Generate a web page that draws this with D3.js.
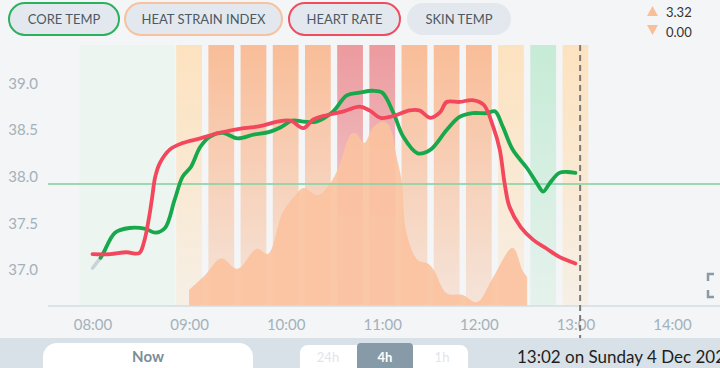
<!DOCTYPE html>
<html><head><meta charset="utf-8">
<script src="https://cdn.jsdelivr.net/npm/d3@7"></script>
<style>
html,body{margin:0;padding:0;background:#f3f5f6;overflow:hidden;}
svg{display:block;font-family:Lato,"Open Sans",sans-serif;}
</style></head>
<body><svg id="c" width="720" height="368"></svg>
<script>
// ---------- DATA ----------
const legendItems = ["CORE TEMP","HEAT STRAIN INDEX","HEART RATE","SKIN TEMP"];
const xTickLabels = ["08:00","09:00","10:00","11:00","12:00","13:00","14:00"];
const yTickValues = [37.0,37.5,38.0,38.5,39.0];
const thresholdValue = 37.92;
const nowTime = "13:02";
const dateLabel = "13:02 on Sunday 4 Dec 2022";
const rangeOptions = ["24h","4h","1h"];
const selectedRange = "4h";

// core temp: first part without signal (grey)
const coreTempGapTimes  = ["08:00","08:05"];
const coreTempGapValues = [37.02,37.13];
const coreTempTimes = ["08:05","08:07","08:14","08:23","08:33","08:39","08:45","08:51","08:56","09:01","09:07","09:13","09:21","09:30","09:40","09:50","09:57","10:04","10:11","10:19","10:29","10:38","10:46","10:54","11:00","11:07","11:13","11:22","11:30","11:40","11:48","11:56","12:05","12:10","12:15","12:21","12:30","12:36","12:40","12:44","12:50","12:55","13:00"];
const coreTempValues = [37.13,37.19,37.40,37.45,37.44,37.40,37.45,37.75,38.00,38.10,38.32,38.43,38.47,38.41,38.45,38.48,38.53,38.60,38.59,38.59,38.69,38.87,38.90,38.92,38.90,38.68,38.43,38.25,38.29,38.50,38.64,38.68,38.68,38.70,38.53,38.29,38.09,37.93,37.84,37.93,38.04,38.05,38.04];

// heart rate (plotted on the same visual scale)
const heartRateTimes = ["08:00","08:11","08:21","08:29","08:32","08:35","08:37","08:39","08:42","08:48","08:56","09:07","09:19","09:34","09:44","09:55","10:03","10:11","10:17","10:26","10:36","10:46","10:52","10:59","11:07","11:17","11:23","11:30","11:36","11:40","11:48","11:56","12:03","12:09","12:13","12:16","12:19","12:26","12:34","12:42","12:50","13:00"];
const heartRateValues = [37.17,37.17,37.19,37.18,37.30,37.55,37.77,38.00,38.15,38.29,38.36,38.41,38.47,38.52,38.54,38.59,38.60,38.52,38.61,38.66,38.70,38.75,38.71,38.63,38.65,38.71,38.71,38.63,38.69,38.80,38.80,38.82,38.77,38.53,38.29,37.93,37.68,37.46,37.32,37.23,37.14,37.07];

// heat strain index
const hsiTimes = ["09:00","09:10","09:20","09:30","09:42","09:49","09:58","10:05","10:11","10:20","10:29","10:35","10:40","10:43","10:46","10:49","10:54","10:59","11:03","11:06","11:09","11:12","11:15","11:22","11:28","11:32","11:40","11:50","11:59","12:08","12:21","12:27","12:30"];
const hsiValues = [0.29,0.56,0.86,0.67,1.03,0.94,1.68,1.96,2.13,2.00,2.27,2.68,3.08,3.12,3.03,2.94,3.21,3.32,3.30,3.12,2.68,2.27,1.32,0.83,0.77,0.65,0.23,0.20,0.07,0.47,1.05,0.65,0.52];
const hsiMin = 0.00;

// 20-minute heat-strain zones
const bandCenters = ["09:00","09:20","09:40","10:00","10:20","10:40","11:00","11:20","11:40","12:00","12:20","12:40","13:00"];
const bandLevels  = ["low","moderate","moderate","moderate","moderate","high","high","moderate","moderate","moderate","low","none","low"];
const idleBandStart = "07:52", idleBandEnd = "08:51";

// ---------- DRAW ----------
const parse = s => { const [h,m] = s.split(":").map(Number); return new Date(2022,11,4,h,m); };
const svg = d3.select("#c");
const W = 720, H = 368;
const axisY = 306, plotTop = 45;

const x = d3.scaleTime().domain([parse("08:00"), parse("14:00")]).range([92.5, 672]);
const y = d3.scaleLinear().domain([37, 39]).range([270, 83.3]);
const yH = d3.scaleLinear().domain([0, d3.max(hsiValues)]).range([axisY, 122]);

const levelColor = {low:"#fde2bf", moderate:"#f9bd98", high:"#ec9a9e", none:"#c6ebd6"};
const defs = svg.append("defs");
Object.entries(levelColor).forEach(([k,c]) => {
  const g = defs.append("linearGradient").attr("id","g-"+k).attr("x1",0).attr("y1",0).attr("x2",0).attr("y2",1);
  g.append("stop").attr("offset","0%").attr("stop-color",c).attr("stop-opacity",1);
  g.append("stop").attr("offset","100%").attr("stop-color",c).attr("stop-opacity",0.3);
});

// idle band
svg.append("rect").attr("x", x(parse(idleBandStart))).attr("y", plotTop)
  .attr("width", x(parse(idleBandEnd)) - x(parse(idleBandStart))).attr("height", axisY - plotTop)
  .attr("fill", "#edf5f0");

// bands
const halfBand = 8 * 60 * 1000;
svg.append("g").selectAll("rect").data(bandCenters.map((c,i)=>({c:parse(c), level:bandLevels[i]})))
  .join("rect")
  .attr("x", d => x(new Date(d.c - halfBand)))
  .attr("width", d => x(new Date(+d.c + halfBand)) - x(new Date(d.c - halfBand)))
  .attr("y", plotTop).attr("height", axisY - plotTop)
  .attr("fill", d => `url(#g-${d.level})`);

// HSI area
const hsi = hsiTimes.map((t,i)=>({t:parse(t), v:hsiValues[i]}));
svg.append("path").datum(hsi)
  .attr("d", d3.area().x(d=>x(d.t)).y0(axisY).y1(d=>yH(d.v)).curve(d3.curveCatmullRom.alpha(0.5)))
  .attr("fill", "#fbc2a0").attr("opacity", 0.92);

// axis line
svg.append("line").attr("x1",48).attr("x2",W).attr("y1",axisY).attr("y2",axisY)
  .attr("stroke","#d3dde4").attr("stroke-width",1.5);

// threshold
svg.append("line").attr("x1",48).attr("x2",W).attr("y1",y(thresholdValue)).attr("y2",y(thresholdValue))
  .attr("stroke","#8fd3a8").attr("stroke-width",2).attr("opacity",0.85);

// y axis
const yAx = svg.append("g").attr("transform","translate(38,0)")
  .call(d3.axisLeft(y).tickValues(yTickValues).tickFormat(d3.format(".1f")).tickSize(0).tickPadding(0));
yAx.select(".domain").remove();
yAx.selectAll("text").attr("fill","#a4b1bb").style("font-size","15px").style("font-family","Lato");

// x axis
const xAx = svg.append("g").attr("transform",`translate(0,${axisY})`)
  .call(d3.axisBottom(x).tickValues(xTickLabels.map(parse)).tickFormat(d3.timeFormat("%H:%M")).tickSize(0).tickPadding(13));
xAx.select(".domain").remove();
xAx.selectAll("text").attr("fill","#a4b1bb").style("font-size","15px").style("font-family","Lato");

// lines
const lineGen = d3.line().x(d=>x(d.t)).y(d=>y(d.v)).curve(d3.curveCatmullRom.alpha(0.5));
const toPts = (ts,vs) => ts.map((t,i)=>({t:parse(t), v:vs[i]}));
svg.append("path").datum(toPts(coreTempGapTimes, coreTempGapValues)).attr("d", lineGen)
  .attr("fill","none").attr("stroke","#c9d3da").attr("stroke-width",3.5).attr("stroke-linecap","round");
svg.append("path").datum(toPts(coreTempTimes, coreTempValues)).attr("d", lineGen)
  .attr("fill","none").attr("stroke","#17a84b").attr("stroke-width",3.8).attr("stroke-linecap","round");
svg.append("path").datum(toPts(heartRateTimes, heartRateValues)).attr("d", lineGen)
  .attr("fill","none").attr("stroke","#f2475c").attr("stroke-width",3.8).attr("stroke-linecap","round");

// now line
svg.append("line").attr("x1", x(parse(nowTime))+1.5).attr("x2", x(parse(nowTime))+1.5)
  .attr("y1", plotTop).attr("y2", 338)
  .attr("stroke","#7a7a7a").attr("stroke-width",2).attr("stroke-dasharray","6,4");

// fullscreen icon (partially clipped)
svg.append("path").attr("d","M714,274 H708 V281 M708,290 V297 H714 M722,274 H728")
  .attr("fill","none").attr("stroke","#8a9aa6").attr("stroke-width",2.5);

// legend pills
const pillX = [9,125,289,407], pillW = [110,157,111,104];
const pillStroke = ["#2bb05f","#f8c29e","#ef4d5f",null];
legendItems.forEach((t,i)=>{
  svg.append("rect").attr("x",pillX[i]).attr("y",3).attr("width",pillW[i]).attr("height",32).attr("rx",16)
    .attr("fill","#e2e8ed").attr("stroke", pillStroke[i] || "none").attr("stroke-width",2);
  svg.append("text").attr("x",pillX[i]+pillW[i]/2).attr("y",19).attr("dy","0.35em")
    .attr("text-anchor","middle").attr("fill","#4d5963").style("font-size","13px").text(t);
});

// min/max legend
svg.append("path").attr("d","M647,16 L652.5,6 L658,16 Z").attr("fill","#f8bf98");
svg.append("path").attr("d","M647,25 L652.5,35 L658,25 Z").attr("fill","#f8bf98");
svg.append("text").attr("x",666).attr("y",12).attr("dy","0.35em").attr("fill","#333").style("font-size","13px")
  .text(d3.format(".2f")(d3.max(hsiValues)));
svg.append("text").attr("x",666).attr("y",32).attr("dy","0.35em").attr("fill","#333").style("font-size","13px")
  .text(d3.format(".2f")(hsiMin));

// bottom bar
svg.append("rect").attr("x",0).attr("y",338).attr("width",W).attr("height",30).attr("fill","#d8e1e8");
svg.append("rect").attr("x",43).attr("y",343).attr("width",210).attr("height",40).attr("rx",14).attr("fill","#fff");
svg.append("text").attr("x",148).attr("y",357).attr("dy","0.35em").attr("text-anchor","middle")
  .attr("fill","#7d8c97").style("font-size","15px").style("font-weight","bold").text("Now");
svg.append("rect").attr("x",300).attr("y",345).attr("width",168).attr("height",40).attr("rx",8).attr("fill","#fff");
const segX = [328,385,442];
rangeOptions.forEach((r,i)=>{
  if (r === selectedRange) {
    svg.append("rect").attr("x",357).attr("y",343).attr("width",56).attr("height",40).attr("rx",4).attr("fill","#869aa8");
  }
  svg.append("text").attr("x",segX[i]).attr("y",357).attr("dy","0.35em").attr("text-anchor","middle")
    .attr("fill", r===selectedRange ? "#fff" : "#dfe5ea").style("font-size","13px")
    .style("font-weight", r===selectedRange ? "bold" : "normal").text(r);
});
svg.append("text").attr("x",517).attr("y",357).attr("dy","0.35em").attr("fill","#1e1e1e")
  .style("font-size","17px").text(dateLabel);
</script></body></html>
